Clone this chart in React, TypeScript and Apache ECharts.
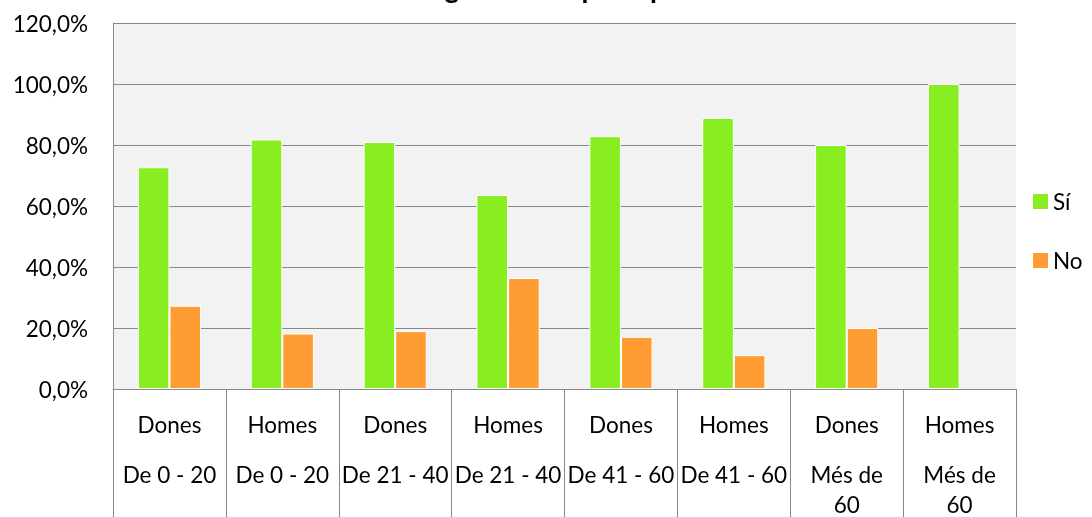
import React, { useEffect, useRef } from "react";
import * as echarts from "echarts";

// Category levels: gender (upper row) and age group (lower row)
const genders = ["Dones", "Homes", "Dones", "Homes", "Dones", "Homes", "Dones", "Homes"];
const ageGroups = [
  "De 0 - 20",
  "De 0 - 20",
  "De 21 - 40",
  "De 21 - 40",
  "De 41 - 60",
  "De 41 - 60",
  "Més de\n60",
  "Més de\n60",
];

// Share of answers per group, in percent
const siValues = [72.7, 81.8, 81.0, 63.6, 82.9, 88.9, 80.0, 100.0];
const noValues = [27.3, 18.2, 19.0, 36.4, 17.1, 11.1, 20.0, 0.0];

const seriesNames = ["Sí", "No"];
const seriesColors = ["#88EE22", "#FF9C33"];

const yMin = 0;
const yMax = 120;
const yStep = 20;

const chartTitle = "Ha utilitzat algun recurs per a persones?";

const FONT = "Lato, 'Open Sans', sans-serif";
const FS = 22.5;

// zero-height bars get no white outline, so the axis line stays unbroken
const barData = (values: number[]) =>
  values.map((v) => (v === 0 ? { value: v, itemStyle: { borderWidth: 0 } } : v));

export default function App() {
  const ref = useRef<HTMLDivElement>(null);

  useEffect(() => {
    if (!ref.current) return;
    const chart = echarts.init(ref.current, undefined, { renderer: "svg" });

    const categories = genders.map((g, i) => `${g} ${ageGroups[i]}`);

    // horizontal placement of the title from its measured text width
    const titleFont = `bold 28px ${FONT}`;
    const canvas = document.createElement("canvas");
    const ctx = canvas.getContext("2d");
    let titleX = 420;
    if (ctx) {
      ctx.font = titleFont;
      const idx = chartTitle.indexOf("g");
      const pre = ctx.measureText(chartTitle.slice(0, idx)).width;
      const gw = ctx.measureText("g").width;
      titleX = 452 - pre - gw / 2;
    }

    chart.setOption({
      animation: false,
      textStyle: { fontFamily: FONT },
      graphic: [
        {
          type: "text",
          x: titleX,
          y: -13,
          style: {
            text: chartTitle,
            font: titleFont,
            fill: "#000",
            textVerticalAlign: "middle",
            verticalAlign: "middle",
          },
        },
      ],
      legend: {
        orient: "vertical",
        left: 1033,
        top: 190,
        padding: 0,
        itemWidth: 15,
        itemHeight: 15,
        itemGap: 36,
        icon: "rect",
        itemStyle: { borderWidth: 0 },
        textStyle: { fontSize: FS, color: "#000", fontFamily: FONT },
        data: seriesNames,
      },
      grid: {
        left: 113,
        right: 76,
        top: 23,
        bottom: 128,
        show: true,
        backgroundColor: "#F2F2F2",
        borderWidth: 0,
      },
      xAxis: {
        type: "category",
        data: categories,
        boundaryGap: true,
        axisLine: { show: true, lineStyle: { color: "#898989", width: 1 } },
        axisTick: {
          show: true,
          interval: 0,
          length: 128,
          alignWithLabel: false,
          lineStyle: { color: "#898989", width: 1 },
        },
        axisLabel: {
          interval: 0,
          margin: 0,
          formatter: (_v: string, i: number) => `{a|${genders[i]}}\n{b|${ageGroups[i]}}`,
          rich: {
            a: { fontSize: FS, lineHeight: 70, color: "#000", fontFamily: FONT },
            b: { fontSize: FS, lineHeight: 30, color: "#000", fontFamily: FONT },
          },
        },
      },
      yAxis: {
        type: "value",
        min: yMin,
        max: yMax,
        interval: yStep,
        axisLine: { show: true, lineStyle: { color: "#898989", width: 1 } },
        axisTick: { show: false },
        splitLine: { show: true, lineStyle: { color: "#898989", width: 1 } },
        axisLabel: {
          margin: 25,
          fontSize: FS,
          color: "#000",
          fontFamily: FONT,
          formatter: (v: number) => `${v.toFixed(1).replace(".", ",")}%`,
        },
      },
      series: [
        {
          name: seriesNames[0],
          type: "bar",
          data: barData(siValues),
          barGap: "0%",
          barCategoryGap: "44%",
          itemStyle: { color: seriesColors[0], borderColor: "#FFFFFF", borderWidth: 1 },
        },
        {
          name: seriesNames[1],
          type: "bar",
          data: barData(noValues),
          itemStyle: { color: seriesColors[1], borderColor: "#FFFFFF", borderWidth: 1 },
        },
      ],
    });

    return () => chart.dispose();
  }, []);

  return (
    <div
      ref={ref}
      style={{ position: "fixed", left: 0, top: 0, width: 1092, height: 517 }}
    />
  );
}
